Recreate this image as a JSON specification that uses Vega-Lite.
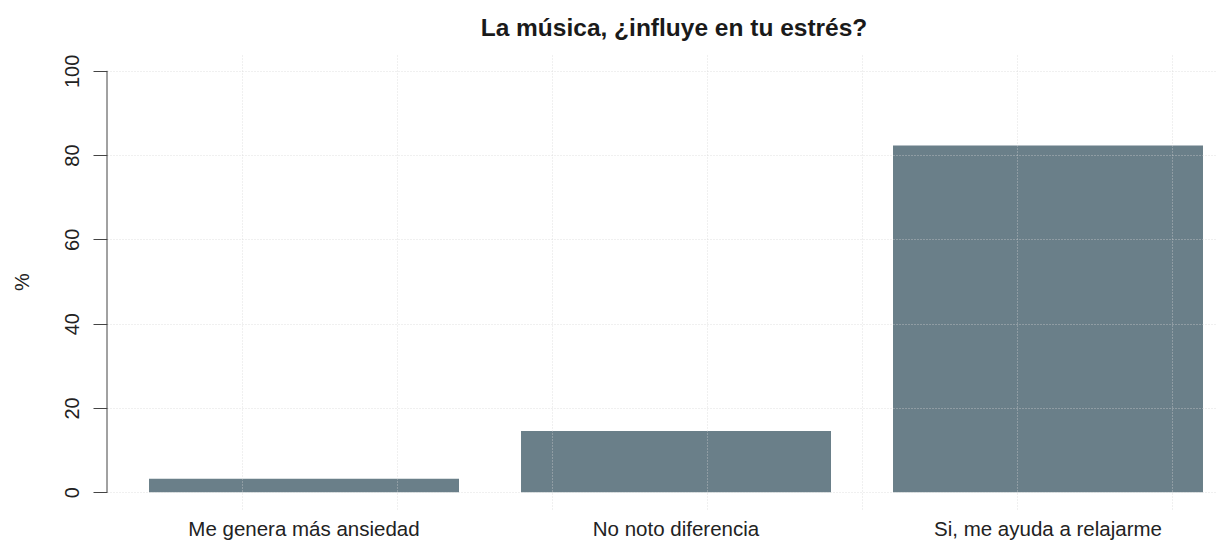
{
  "$schema": "https://vega.github.io/schema/vega-lite/v6.json",
  "width": 1110,
  "height": 455,
  "autosize": {"type": "none"},
  "padding": {"left": 107, "top": 54, "right": 0, "bottom": 33},
  "background": "white",
  "config": {
    "font": "Liberation Sans",
    "view": {"stroke": null}
  },
  "title": {
    "text": "La música, ¿influye en tu estrés?",
    "fontSize": 24.5,
    "fontWeight": "bold",
    "font": "Liberation Sans",
    "color": "#1a1a1a",
    "anchor": "middle",
    "frame": "group",
    "baseline": "alphabetic",
    "offset": -6,
    "dx": 12
  },
  "data": {
    "values": [
      {"respuesta": "Me genera más ansiedad", "porcentaje": 3.2},
      {"respuesta": "No noto diferencia", "porcentaje": 14.5},
      {"respuesta": "Si, me ayuda a relajarme", "porcentaje": 82.3}
    ]
  },
  "layer": [
    {
      "mark": {"type": "bar", "color": "#6a7f89"},
      "encoding": {
        "x": {
          "field": "respuesta",
          "type": "nominal",
          "sort": null,
          "scale": {"paddingInner": 0.1667, "paddingOuter": 0.0753, "align": 0.75},
          "axis": {
            "title": null,
            "labelAngle": 0,
            "labelFontSize": 20.5,
            "labelColor": "#222",
            "labelPadding": 10,
            "labelLimit": 0,
            "ticks": false,
            "domain": false,
            "grid": false
          }
        },
        "y": {
          "field": "porcentaje",
          "type": "quantitative",
          "scale": {"domain": [-4, 104], "nice": false, "zero": false},
          "axis": {
            "title": "%",
            "titleFontSize": 20,
            "titleFontWeight": "normal",
            "titleColor": "#222",
            "titlePadding": 30,
            "values": [0, 20, 40, 60, 80, 100],
            "labelAngle": 270,
            "labelFontSize": 20,
            "labelColor": "#222",
            "labelPadding": 15,
            "labelBaseline": "alphabetic",
            "labelAlign": "center",
            "tickSize": 14,
            "tickColor": "#444",
            "domain": false,
            "grid": true,
            "gridColor": "#d3d3d3",
            "gridDash": [1, 2],
            "gridOpacity": 0.7,
            "zindex": 1
          }
        }
      }
    },
    {
      "data": {"values": [{}]},
      "mark": {"type": "rule", "color": "#444", "strokeWidth": 1},
      "encoding": {
        "x": {
          "datum": 0.064,
          "type": "quantitative",
          "scale": {"domain": [0.064, 3.6446], "nice": false, "zero": false},
          "axis": {
            "orient": "top",
            "title": null,
            "values": [0.5, 1, 1.5, 2, 2.5, 3, 3.5],
            "labels": false,
            "ticks": false,
            "domain": false,
            "grid": true,
            "gridColor": "#d3d3d3",
            "gridDash": [1, 2],
            "gridOpacity": 0.7,
            "zindex": 1
          }
        },
        "y": {"datum": 0},
        "y2": {"datum": 100}
      }
    }
  ],
  "resolve": {"scale": {"x": "independent"}, "axis": {"x": "independent"}}
}
